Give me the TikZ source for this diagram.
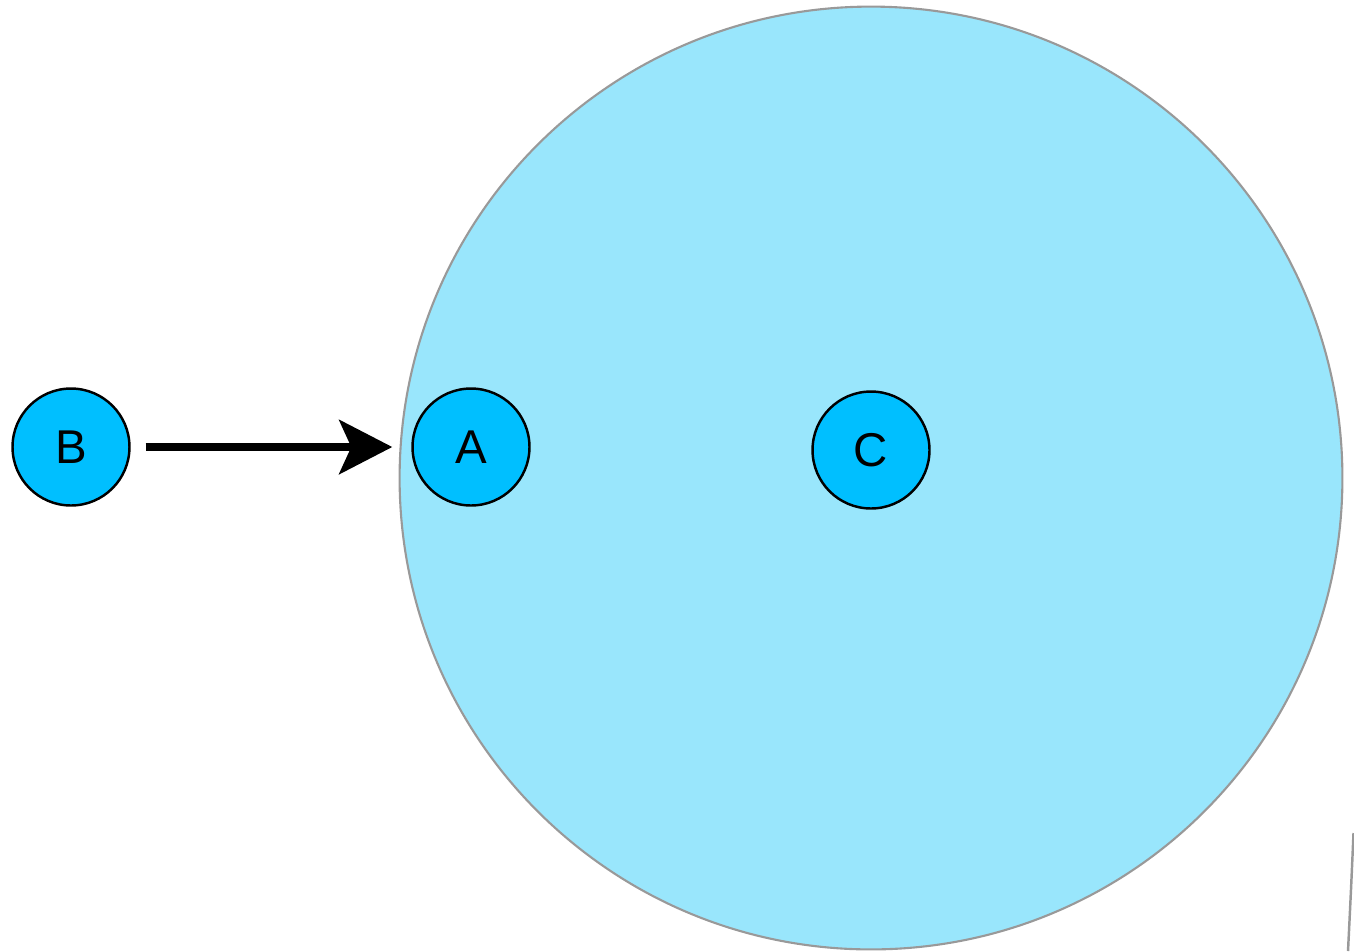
\documentclass[tikz,border=0pt]{standalone}
\usepackage{fontspec}
\setmainfont{Liberation Sans}
\usepackage{xcolor}
\usetikzlibrary{arrows.meta}

\definecolor{zonefill}{RGB}{153,230,252}
\definecolor{zoneline}{RGB}{153,153,153}
\definecolor{agentfill}{RGB}{0,191,255}

\begin{document}
\begin{tikzpicture}[
    x=0.02cm, y=-0.02cm,
    font=\fontsize{27}{30}\selectfont,
    zone/.style={circle, draw=zoneline, line width=1.2pt, fill=zonefill,
                 minimum size=18.86cm, inner sep=0pt},
    agent/.style={circle, draw=black, line width=1.4pt, fill=agentfill,
                  minimum size=2.34cm, inner sep=0pt},
    flow/.style={-{Stealth[length=1.06cm, width=1.08cm, inset=0.24cm]},
                 line width=0.17cm, shorten <=0.3cm, shorten >=0.38cm},
  ]
  \useasboundingbox (0,0) rectangle (1354,951);

  % ---------------- Zone ----------------
  \node[zone] (zone) at (871,478) {};
  \draw[zoneline, line width=1.4pt] (1353.5,833) .. controls (1351,890) .. (1348,951);

  % ---------------- Agents ----------------
  \node[agent] (b) at (71,447)  {B};
  \node[agent] (a) at (471,447) {A};
  \node[agent] (c) at (871,450) {C};

  % ---------------- Move ----------------
  \draw[flow] (b) -- (a);
\end{tikzpicture}
\end{document}
